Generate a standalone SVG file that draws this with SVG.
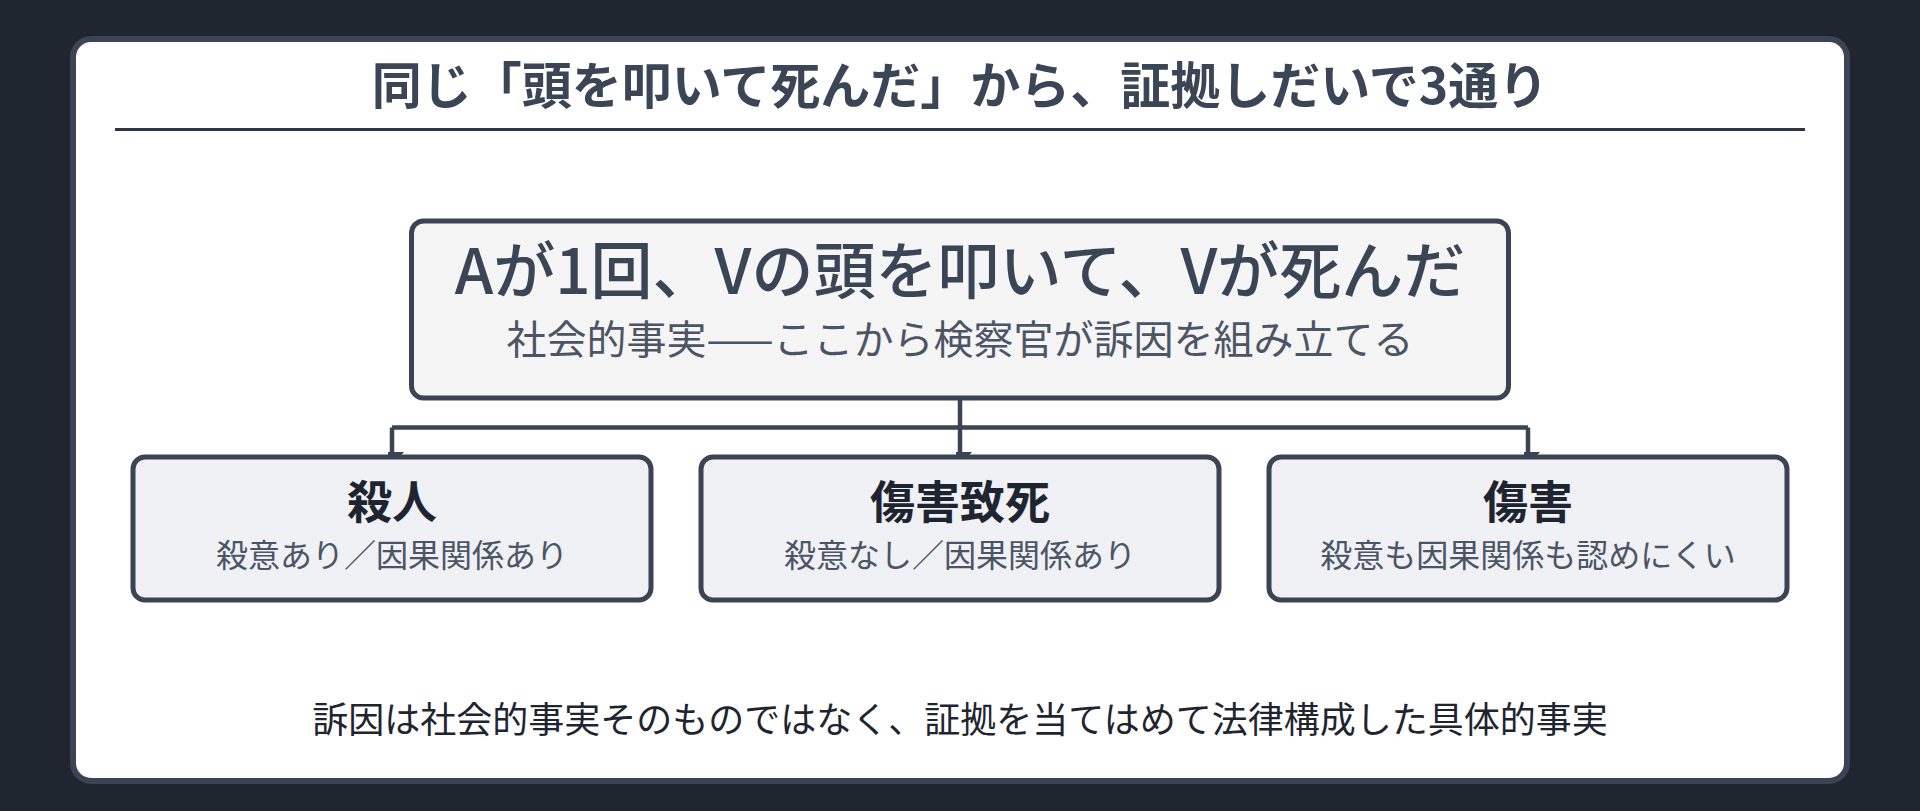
<svg xmlns="http://www.w3.org/2000/svg" width="1920" height="811" viewBox="0 0 1920 811">
<style>
.t{font-family:"Noto Sans CJK JP","Noto Sans",sans-serif;text-anchor:middle}
.title{font-size:50px;font-weight:700;fill:#3a4556}
.main{font-size:62px;font-weight:500;fill:#3a4556}
.sub{font-size:40px;font-weight:400;fill:#4b5565}
.ctitle{font-size:45px;font-weight:700;fill:#1e2530}
.csub{font-size:32px;font-weight:400;fill:#4b5565}
.note{font-size:36px;font-weight:400;fill:#1e2530}
.box{stroke:#3a4454;stroke-width:5}
.child{fill:#eff1f5}
.conn{fill:none;stroke:#3a4454;stroke-width:4.5}
</style>
<defs>
<marker id="arr" markerUnits="userSpaceOnUse" markerWidth="26" markerHeight="16" refX="14" refY="12" orient="auto">
<path d="M0,0 L14,12 L0,24 Z" fill="#3a4454"/>
</marker>
</defs>
<rect width="1920" height="811" fill="#1f2630"/>
<rect x="73" y="39" width="1774" height="742" rx="18" fill="#ffffff" stroke="#3a4454" stroke-width="6"/>
<g id="title">
<text class="t title" x="960" y="104">同じ「頭を叩いて死んだ」から、証拠しだいで3通り</text>
<line x1="115" y1="129.5" x2="1805" y2="129.5" stroke="#2d3542" stroke-width="3"/>
</g>
<g id="connectors">
<path class="conn" d="M960,398 V427.5 M392,427.5 H1528"/>
<path class="conn" d="M392,427.5 V466" marker-end="url(#arr)"/>
<path class="conn" d="M960,427.5 V466" marker-end="url(#arr)"/>
<path class="conn" d="M1528,427.5 V466" marker-end="url(#arr)"/>
</g>
<g id="fact">
<rect class="box" x="411.5" y="221" width="1097" height="177" rx="12" fill="#f5f5f5"/>
<text class="t main" x="960" y="294">Aが1回、Vの頭を叩いて、Vが死んだ</text>
<text class="t sub" x="960" y="354">社会的事実——ここから検察官が訴因を組み立てる</text>
</g>
<g id="murder">
<rect class="box child" x="133" y="457" width="518" height="143" rx="12"/>
<text class="t ctitle" x="392" y="519">殺人</text>
<text class="t csub" x="392" y="567">殺意あり／因果関係あり</text>
</g>
<g id="injury-death">
<rect class="box child" x="701" y="457" width="518" height="143" rx="12"/>
<text class="t ctitle" x="960" y="519">傷害致死</text>
<text class="t csub" x="960" y="567">殺意なし／因果関係あり</text>
</g>
<g id="injury">
<rect class="box child" x="1269" y="457" width="518" height="143" rx="12"/>
<text class="t ctitle" x="1528" y="519">傷害</text>
<text class="t csub" x="1528" y="567">殺意も因果関係も認めにくい</text>
</g>
<g id="note">
<text class="t note" x="960" y="733">訴因は社会的事実そのものではなく、証拠を当てはめて法律構成した具体的事実</text>
</g>
</svg>
